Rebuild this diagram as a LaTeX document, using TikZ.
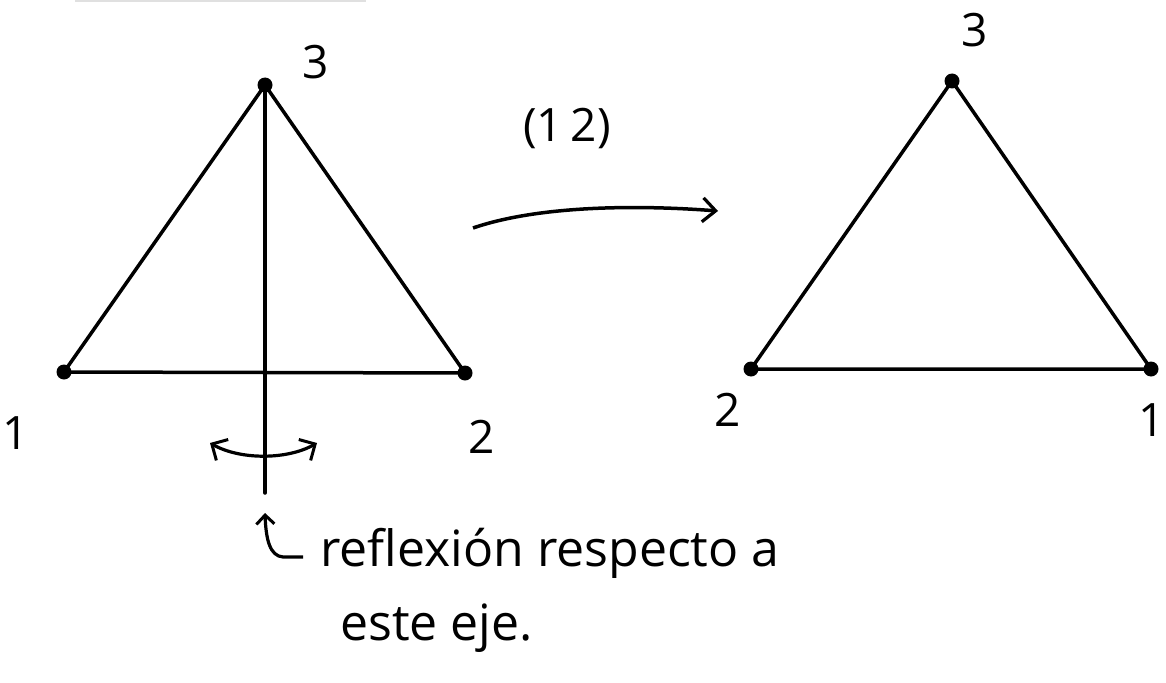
\documentclass[tikz,border=0pt]{standalone}
\usepackage{fontspec}
\setmainfont{Open Sans}
\usetikzlibrary{arrows.meta}
\begin{document}
\begin{tikzpicture}[x=1pt,y=-1pt,
  edge/.style={line width=3.5pt,line cap=round},
  vdot/.style={circle,fill=black,inner sep=0pt,minimum size=15pt},
  lbl/.style={font=\fontsize{46}{50}\selectfont},
  txt/.style={font=\fontsize{50}{54}\selectfont,anchor=base west,inner sep=0pt},
  barb/.style={-{Straight Barb[length=13pt,width=24pt,line width=3.2pt]}}]
\useasboundingbox (0,0) rectangle (1166,682);
\draw[line width=1.5pt,black!12] (75,1) -- (366,1);
% left triangle
\node[vdot] (a3) at (265,85) {};
\node[vdot] (a1) at (64,372) {};
\node[vdot] (a2) at (465,373) {};
\draw[edge] (a1.center) -- (a2.center) -- (a3.center) -- cycle;
\coordinate (axb) at (265,493);
\draw[edge] (a3.center) -- (axb);
\node[lbl] (l3) at (316,62) {3};
\node[lbl] (l1) at (16,433) {1};
\node[lbl] (l2) at (482,437) {2};
% double arrow
\coordinate (dl) at (210,443);
\coordinate (dr) at (317,443);
\draw[line width=3.2pt,{Straight Barb[length=12pt,width=24pt,line width=3pt]}-{Straight Barb[length=12pt,width=24pt,line width=3pt]}] (dl) .. controls (240,460) and (287,460) .. (dr);
% pointer arrow
\coordinate (ps) at (303,557);
\coordinate (pt) at (265,513);
\draw[line width=3.2pt,-{Straight Barb[length=9pt,width=18pt,line width=3pt]}] (ps) -- (283,557) .. controls (270,556) and (266,540) .. (pt);
\node[txt] (t1) at (320,566) {reflexión respecto a};
\node[txt] (t2) at (340,640) {este eje.};
% middle arrow
\node[lbl] (perm) at (567,128) {(1\,2)};
\coordinate (ms) at (473,228);
\coordinate (me) at (718,211);
\draw[line width=3.5pt,barb] (ms) .. controls (540,205) and (640,205) .. (me);
% right triangle
\node[vdot] (b3) at (952,81) {};
\node[vdot] (b2) at (751,369) {};
\node[vdot] (b1) at (1151,369) {};
\draw[edge] (b2.center) -- (b1.center) -- (b3.center) -- cycle;
\node[lbl] (m3) at (975,30) {3};
\node[lbl] (m2) at (728,410) {2};
\node[lbl] (m1) at (1152,420) {1};
\end{tikzpicture}
\end{document}
